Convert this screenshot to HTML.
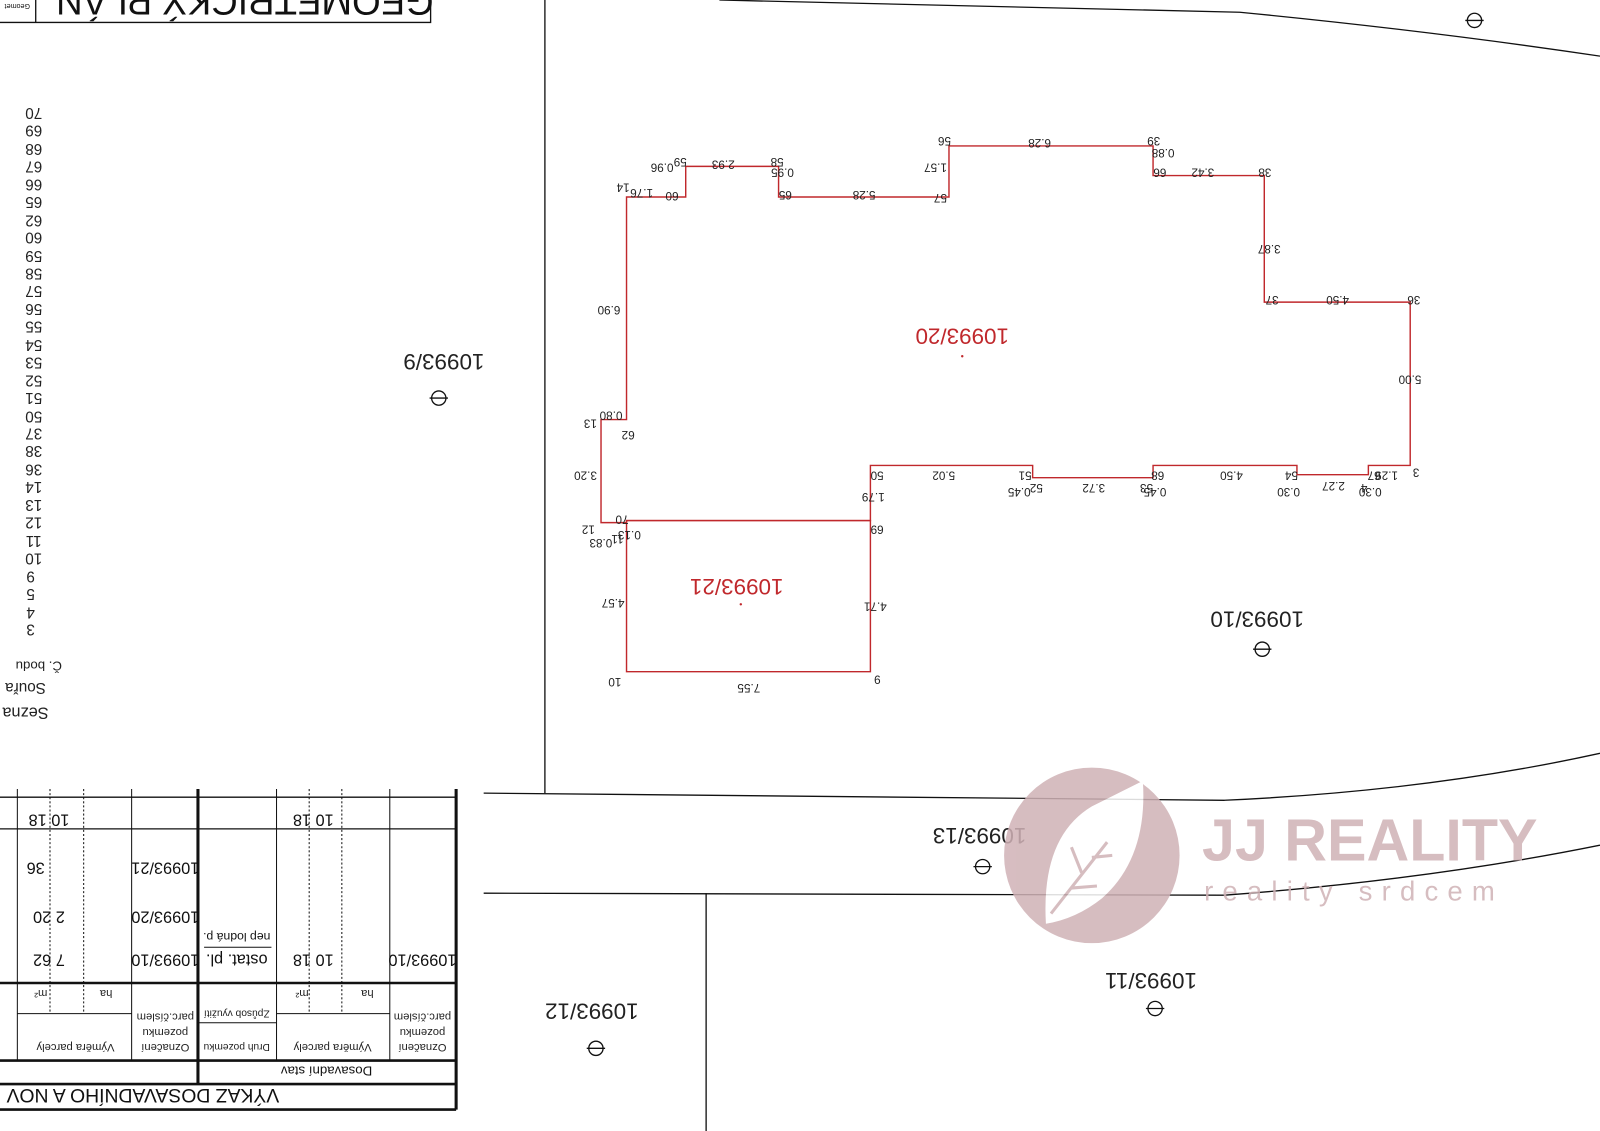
<!DOCTYPE html>
<html><head><meta charset="utf-8"><style>
html,body{margin:0;padding:0;background:#fff;}
svg{display:block}
text{font-family:"Liberation Sans",sans-serif;}
.s{font-size:11.5px;fill:#222}
.r{font-size:22px;fill:#c0282c}
.b{font-size:22px;fill:#222}
.t{font-size:11px;fill:#222}
</style></head><body>
<svg width="1600" height="1131" viewBox="0 0 1568 1108" preserveAspectRatio="none" xmlns="http://www.w3.org/2000/svg">
<rect width="1568" height="1108" fill="#fff"/>
<g fill="none" stroke="#111" stroke-width="1.3">
<line x1="534" y1="0" x2="534" y2="777"/>
<path d="M705,0 L1215,12 Q1400,30 1568,55"/>
<path d="M474,777 L1200,784 Q1400,775 1568,738"/>
<path d="M474,875 L1200,877 Q1400,862 1568,828"/>
<line x1="692" y1="875" x2="692" y2="1108"/>
<path d="M0,22 L422,22 L422,0"/>
<line x1="35" y1="0" x2="35" y2="22"/>
</g>
<text transform="rotate(180 240 -11)" x="240" y="-11" text-anchor="middle" style="font-size:36px;fill:#111">GEOMETRICKÝ PLÁN</text>
<text transform="rotate(180 17 4)" x="17" y="4" text-anchor="middle" style="font-size:7px;fill:#111">Geomet</text>

<g fill="none" stroke="#c0282c" stroke-width="1.4">
<path d="M614,193 L672,193 L672,163 L763,163 L763,193 L930,193 L930,143 L1130,143 L1130,172 L1239,172 L1239,296 L1382,296 L1382,456 L1341,456 L1341,465 L1271,465 L1271,456 L1130,456 L1130,468 L1012,468 L1012,456 L853,456 L853,510 L614,510 L614,512 L589,512 L589,411 L614,411 Z"/>
<path d="M614,510 L853,510 L853,658 L614,658 Z"/>
</g>
<circle cx="943" cy="349" r="1.2" fill="#c0282c"/>
<circle cx="726" cy="592" r="1.2" fill="#c0282c"/>

<g class="s">
<text transform="rotate(180 617 180)" x="617" y="180">14</text>
<text transform="rotate(180 640 185)" x="640" y="185">1.76</text>
<text transform="rotate(180 665 188)" x="665" y="188">60</text>
<text transform="rotate(180 660 160)" x="660" y="160">0.96</text>
<text transform="rotate(180 673 155)" x="673" y="155">59</text>
<text transform="rotate(180 720 157)" x="720" y="157">2.93</text>
<text transform="rotate(180 768 155)" x="768" y="155">58</text>
<text transform="rotate(180 778 165)" x="778" y="165">0.95</text>
<text transform="rotate(180 776 187)" x="776" y="187">65</text>
<text transform="rotate(180 858 187)" x="858" y="187">5.28</text>
<text transform="rotate(180 928 190)" x="928" y="190">57</text>
<text transform="rotate(180 928 160)" x="928" y="160">1.57</text>
<text transform="rotate(180 932 134)" x="932" y="134">56</text>
<text transform="rotate(180 1030 136)" x="1030" y="136">6.28</text>
<text transform="rotate(180 1137 134)" x="1137" y="134">39</text>
<text transform="rotate(180 1151 146)" x="1151" y="146">0.88</text>
<text transform="rotate(180 1143 165)" x="1143" y="165">66</text>
<text transform="rotate(180 1190 165)" x="1190" y="165">3.42</text>
<text transform="rotate(180 1246 165)" x="1246" y="165">38</text>
<text transform="rotate(180 1255 240)" x="1255" y="240">3.87</text>
<text transform="rotate(180 1253 290)" x="1253" y="290">37</text>
<text transform="rotate(180 1322 290)" x="1322" y="290">4.50</text>
<text transform="rotate(180 1392 290)" x="1392" y="290">36</text>
<text transform="rotate(180 1393 368)" x="1393" y="368">5.00</text>
<text transform="rotate(180 1391 459)" x="1391" y="459">3</text>
<text transform="rotate(180 1370 462)" x="1370" y="462">1.29</text>
<text transform="rotate(180 1353 462)" x="1353" y="462">67</text>
<text transform="rotate(180 1354 478)" x="1354" y="478">0.30</text>
<text transform="rotate(180 1340 474)" x="1340" y="474">4</text>
<text transform="rotate(180 1318 472)" x="1318" y="472">2.27</text>
<text transform="rotate(180 1274 478)" x="1274" y="478">0.30</text>
<text transform="rotate(180 1272 462)" x="1272" y="462">54</text>
<text transform="rotate(180 1218 462)" x="1218" y="462">4.50</text>
<text transform="rotate(180 1141 462)" x="1141" y="462">68</text>
<text transform="rotate(180 1143 478)" x="1143" y="478">0.45</text>
<text transform="rotate(180 1130 474)" x="1130" y="474">53</text>
<text transform="rotate(180 1083 474)" x="1083" y="474">3.72</text>
<text transform="rotate(180 1022 474)" x="1022" y="474">52</text>
<text transform="rotate(180 1010 478)" x="1010" y="478">0.45</text>
<text transform="rotate(180 1011 462)" x="1011" y="462">51</text>
<text transform="rotate(180 936 462)" x="936" y="462">5.02</text>
<text transform="rotate(180 866 462)" x="866" y="462">50</text>
<text transform="rotate(180 867 483)" x="867" y="483">1.79</text>
<text transform="rotate(180 866 515)" x="866" y="515">69</text>
<text transform="rotate(180 869 590)" x="869" y="590">4.71</text>
<text transform="rotate(180 863 662)" x="863" y="662">9</text>
<text transform="rotate(180 745 670)" x="745" y="670">7.55</text>
<text transform="rotate(180 609 664)" x="609" y="664">10</text>
<text transform="rotate(180 612 587)" x="612" y="587">4.57</text>
<text transform="rotate(180 628 520)" x="628" y="520">0.13</text>
<text transform="rotate(180 611 524)" x="611" y="524">11</text>
<text transform="rotate(180 600 528)" x="600" y="528">0.83</text>
<text transform="rotate(180 583 515)" x="583" y="515">12</text>
<text transform="rotate(180 616 505)" x="616" y="505">70</text>
<text transform="rotate(180 585 462)" x="585" y="462">3.20</text>
<text transform="rotate(180 585 411)" x="585" y="411">13</text>
<text transform="rotate(180 610 403)" x="610" y="403">0.80</text>
<text transform="rotate(180 622 422)" x="622" y="422">62</text>
<text transform="rotate(180 608 300)" x="608" y="300">6.90</text>
</g>

<text class="r" transform="rotate(180 943 322)" x="943" y="322" text-anchor="middle">10993/20</text>
<text class="r" transform="rotate(180 722 567)" x="722" y="567" text-anchor="middle">10993/21</text>
<g class="b">
<text transform="rotate(180 435 347)" x="435" y="347" text-anchor="middle">10993/9</text>
<text transform="rotate(180 1232 599)" x="1232" y="599" text-anchor="middle">10993/10</text>
<text transform="rotate(180 960 811)" x="960" y="811" text-anchor="middle">10993/13</text>
<text transform="rotate(180 1128 953)" x="1128" y="953" text-anchor="middle">10993/11</text>
<text transform="rotate(180 580 983)" x="580" y="983" text-anchor="middle">10993/12</text>
</g>
<g fill="none" stroke="#111" stroke-width="1.3">
<circle cx="430" cy="390" r="7"/><line x1="421" y1="390" x2="439" y2="390"/>
<circle cx="1237" cy="636" r="7"/><line x1="1228" y1="636" x2="1246" y2="636"/>
<circle cx="963" cy="849" r="7"/><line x1="954" y1="849" x2="972" y2="849"/>
<circle cx="1132" cy="988" r="7"/><line x1="1123" y1="988" x2="1141" y2="988"/>
<circle cx="584" cy="1027" r="7"/><line x1="575" y1="1027" x2="593" y2="1027"/>
<circle cx="1445" cy="20" r="7"/><line x1="1436" y1="20" x2="1454" y2="20"/>
</g>

<g style="font-size:15px;fill:#222">
<text transform="rotate(180 33 106)" x="33" y="106" text-anchor="middle">70</text>
<text transform="rotate(180 33 123)" x="33" y="123" text-anchor="middle">69</text>
<text transform="rotate(180 33 141)" x="33" y="141" text-anchor="middle">68</text>
<text transform="rotate(180 33 158)" x="33" y="158" text-anchor="middle">67</text>
<text transform="rotate(180 33 176)" x="33" y="176" text-anchor="middle">66</text>
<text transform="rotate(180 33 193)" x="33" y="193" text-anchor="middle">65</text>
<text transform="rotate(180 33 211)" x="33" y="211" text-anchor="middle">62</text>
<text transform="rotate(180 33 228)" x="33" y="228" text-anchor="middle">60</text>
<text transform="rotate(180 33 246)" x="33" y="246" text-anchor="middle">59</text>
<text transform="rotate(180 33 263)" x="33" y="263" text-anchor="middle">58</text>
<text transform="rotate(180 33 280)" x="33" y="280" text-anchor="middle">57</text>
<text transform="rotate(180 33 298)" x="33" y="298" text-anchor="middle">56</text>
<text transform="rotate(180 33 315)" x="33" y="315" text-anchor="middle">55</text>
<text transform="rotate(180 33 333)" x="33" y="333" text-anchor="middle">54</text>
<text transform="rotate(180 33 350)" x="33" y="350" text-anchor="middle">53</text>
<text transform="rotate(180 33 368)" x="33" y="368" text-anchor="middle">52</text>
<text transform="rotate(180 33 385)" x="33" y="385" text-anchor="middle">51</text>
<text transform="rotate(180 33 403)" x="33" y="403" text-anchor="middle">50</text>
<text transform="rotate(180 33 420)" x="33" y="420" text-anchor="middle">37</text>
<text transform="rotate(180 33 437)" x="33" y="437" text-anchor="middle">38</text>
<text transform="rotate(180 33 455)" x="33" y="455" text-anchor="middle">36</text>
<text transform="rotate(180 33 472)" x="33" y="472" text-anchor="middle">14</text>
<text transform="rotate(180 33 490)" x="33" y="490" text-anchor="middle">13</text>
<text transform="rotate(180 33 507)" x="33" y="507" text-anchor="middle">12</text>
<text transform="rotate(180 33 525)" x="33" y="525" text-anchor="middle">11</text>
<text transform="rotate(180 33 542)" x="33" y="542" text-anchor="middle">10</text>
<text transform="rotate(180 30 560)" x="30" y="560" text-anchor="middle">9</text>
<text transform="rotate(180 30 577)" x="30" y="577" text-anchor="middle">5</text>
<text transform="rotate(180 30 595)" x="30" y="595" text-anchor="middle">4</text>
<text transform="rotate(180 30 612)" x="30" y="612" text-anchor="middle">3</text>
<text transform="rotate(180 38 648)" x="38" y="648" text-anchor="middle" style="font-size:13px">Č. bodu</text>
<text transform="rotate(180 25 669)" x="25" y="669" text-anchor="middle" style="font-size:15px">Souřa</text>
<text transform="rotate(180 25 693)" x="25" y="693" text-anchor="middle" style="font-size:16px">Sezna</text>
</g>

<g stroke="#111" fill="none">
<line x1="447" y1="773" x2="447" y2="1087" stroke-width="3"/>
<line x1="194" y1="773" x2="194" y2="1062" stroke-width="3"/>
<line x1="0" y1="1087" x2="447" y2="1087" stroke-width="2.5"/>
<line x1="0" y1="1062" x2="447" y2="1062" stroke-width="2.5"/>
<line x1="0" y1="1039" x2="447" y2="1039" stroke-width="2.5"/>
<line x1="0" y1="963" x2="447" y2="963" stroke-width="2.5"/>
<line x1="0" y1="812" x2="447" y2="812" stroke-width="1.3"/>
<line x1="0" y1="781" x2="447" y2="781" stroke-width="1.3"/>
<line x1="17" y1="993" x2="129" y2="993" stroke-width="1"/>
<line x1="271" y1="993" x2="382" y2="993" stroke-width="1"/>
<line x1="194" y1="1002" x2="271" y2="1002" stroke-width="1"/>
<g stroke-width="1">
<line x1="17" y1="773" x2="17" y2="1039"/>
<line x1="129" y1="773" x2="129" y2="1039"/>
<line x1="271" y1="773" x2="271" y2="1039"/>
<line x1="382" y1="773" x2="382" y2="1039"/>
</g>
<g stroke-width="1" stroke-dasharray="2,2">
<line x1="49" y1="773" x2="49" y2="993"/>
<line x1="82" y1="773" x2="82" y2="993"/>
<line x1="303" y1="773" x2="303" y2="993"/>
<line x1="335" y1="773" x2="335" y2="993"/>
</g>
<line x1="200" y1="928" x2="266" y2="928" stroke-width="1"/>
</g>
<g style="font-size:16px;fill:#111">
<text transform="rotate(180 140 1067)" x="140" y="1067" text-anchor="middle" style="font-size:19px">VÝKAZ DOSAVADNÍHO A NOV</text>
<text transform="rotate(180 320 1045)" x="320" y="1045" text-anchor="middle" style="font-size:13px">Dosavadní stav</text>
<text transform="rotate(180 48 798)" x="48" y="798" text-anchor="middle">10 18</text>
<text transform="rotate(180 307 798)" x="307" y="798" text-anchor="middle">10 18</text>
<text transform="rotate(180 35 845)" x="35" y="845" text-anchor="middle">36</text>
<text transform="rotate(180 48 893)" x="48" y="893" text-anchor="middle">2 20</text>
<text transform="rotate(180 48 935)" x="48" y="935" text-anchor="middle">7 62</text>
<text transform="rotate(180 307 935)" x="307" y="935" text-anchor="middle">10 18</text>
<text transform="rotate(180 162 845)" x="162" y="845" text-anchor="middle">10993/21</text>
<text transform="rotate(180 162 893)" x="162" y="893" text-anchor="middle">10993/20</text>
<text transform="rotate(180 162 935)" x="162" y="935" text-anchor="middle">10993/10</text>
<text transform="rotate(180 414 935)" x="414" y="935" text-anchor="middle">10993/10</text>
<text transform="rotate(180 232 935)" x="232" y="935" text-anchor="middle">ostat. pl.</text>
<text transform="rotate(180 232 914)" x="232" y="914" text-anchor="middle" style="font-size:12px">nep lodná p.</text>
</g>
<g class="t">
<text transform="rotate(180 104 970)" x="104" y="970" text-anchor="middle">ha</text>
<text transform="rotate(180 40 970)" x="40" y="970" text-anchor="middle">m²</text>
<text transform="rotate(180 360 970)" x="360" y="970" text-anchor="middle">ha</text>
<text transform="rotate(180 296 970)" x="296" y="970" text-anchor="middle">m²</text>
<text transform="rotate(180 74 1023)" x="74" y="1023" text-anchor="middle">Výměra parcely</text>
<text transform="rotate(180 326 1023)" x="326" y="1023" text-anchor="middle">Výměra parcely</text>
<text transform="rotate(180 232 1023)" x="232" y="1023" text-anchor="middle" style="font-size:10px">Druh pozemku</text>
<text transform="rotate(180 232 990)" x="232" y="990" text-anchor="middle" style="font-size:10px">Způsob využití</text>
<text transform="rotate(180 162 1023)" x="162" y="1023" text-anchor="middle">Označení</text>
<text transform="rotate(180 162 1008)" x="162" y="1008" text-anchor="middle">pozemku</text>
<text transform="rotate(180 162 993)" x="162" y="993" text-anchor="middle">parc.číslem</text>
<text transform="rotate(180 414 1023)" x="414" y="1023" text-anchor="middle">Označení</text>
<text transform="rotate(180 414 1008)" x="414" y="1008" text-anchor="middle">pozemku</text>
<text transform="rotate(180 414 993)" x="414" y="993" text-anchor="middle">parc.číslem</text>
</g>

<g opacity="0.85">
<circle cx="1070" cy="838" r="86" fill="#d0b2b6"/>
<path d="M1025,905 Q1020,820 1070,790 Q1100,775 1120,765 Q1125,840 1080,880 Q1055,900 1025,905 Z" fill="#fff"/>
<path d="M1030,895 L1085,825 M1050,870 L1075,868 M1060,855 L1050,830 M1070,840 L1090,838" stroke="#d0b2b6" stroke-width="3" fill="none"/>
<text x="1178" y="843" style="font-size:58px;font-weight:bold;fill:#d0b2b6">JJ REALITY</text>
<text x="1180" y="882" style="font-size:27px;letter-spacing:9px;fill:#d0b2b6;font-weight:300">reality srdcem</text>
</g>
</svg>
</body></html>
